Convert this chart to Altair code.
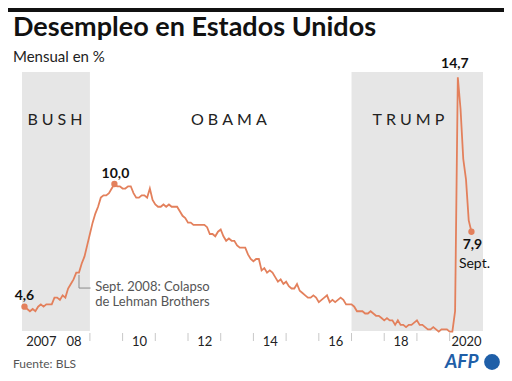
import altair as alt
import pandas as pd

# Monthly unemployment rate (%), BLS
rate_2007 = [4.6, 4.5, 4.4, 4.5, 4.4, 4.6, 4.7, 4.6, 4.7, 4.7, 4.7, 5.0]
rate_2008 = [5.0, 4.9, 5.1, 5.0, 5.4, 5.6, 5.8, 6.1, 6.1, 6.5, 6.8, 7.3]
rate_2009 = [7.8, 8.3, 8.7, 9.0, 9.4, 9.5, 9.5, 9.6, 9.8, 10.0, 9.9, 9.9]
rate_2010 = [9.8, 9.8, 9.9, 9.9, 9.6, 9.4, 9.4, 9.5, 9.5, 9.4, 9.8, 9.3]
rate_2011 = [9.1, 9.0, 9.0, 9.1, 9.0, 9.1, 9.0, 9.0, 9.0, 8.8, 8.6, 8.5]
rate_2012 = [8.3, 8.3, 8.2, 8.2, 8.2, 8.2, 8.2, 8.1, 7.8, 7.8, 7.7, 7.9]
rate_2013 = [8.0, 7.7, 7.5, 7.6, 7.5, 7.5, 7.3, 7.2, 7.2, 7.2, 6.9, 6.7]
rate_2014 = [6.6, 6.7, 6.7, 6.2, 6.3, 6.1, 6.2, 6.1, 5.9, 5.7, 5.8, 5.6]
rate_2015 = [5.7, 5.5, 5.4, 5.4, 5.6, 5.3, 5.2, 5.1, 5.0, 5.0, 5.1, 5.0]
rate_2016 = [4.8, 4.9, 5.0, 5.1, 4.8, 4.9, 4.8, 4.9, 5.0, 4.9, 4.7, 4.7]
rate_2017 = [4.7, 4.6, 4.4, 4.4, 4.4, 4.3, 4.3, 4.4, 4.3, 4.2, 4.2, 4.1]
rate_2018 = [4.0, 4.1, 4.0, 4.0, 3.8, 4.0, 3.8, 3.8, 3.7, 3.8, 3.8, 3.9]
rate_2019 = [4.0, 3.8, 3.8, 3.7, 3.6, 3.6, 3.7, 3.6, 3.5, 3.6, 3.6, 3.6]
rate_2020 = [3.5, 3.5, 4.4, 14.7, 13.3, 11.1, 10.2, 8.4, 7.9]

series = [rate_2007, rate_2008, rate_2009, rate_2010, rate_2011, rate_2012, rate_2013,
          rate_2014, rate_2015, rate_2016, rate_2017, rate_2018, rate_2019, rate_2020]

# Presidential terms
term_names = ["BUSH", "OBAMA", "TRUMP"]
term_start = [2006.924, 2009.0, 2017.0]
term_end = [2009.0, 2017.0, 2021.02]
term_shaded = [True, False, True]
term_label_t = [2007.93, 2013.25, 2018.74]
term_label_rate = [12.6, 12.6, 12.6]

# Axis
tick_years = list(range(2009, 2021))
label_pos = [2007.5, 2008.5, 2010.5, 2012.5, 2014.5, 2016.5, 2018.5, 2020.5]
label_text = ["2007", "08", "10", "12", "14", "16", "18", "2020"]

# Highlighted values
hl_key = ["start", "peak09", "peak20", "last"]
hl_t = [2007.0, 2009.75, 2020.25, 2020 + 8 / 12]
hl_rate = [4.6, 10.0, 14.7, 7.9]
hl_text = ["4,6", "10,0", "14,7", "7,9"]

# Lehman annotation
lehman_t = 2008 + 8 / 12
lehman_rate_top = 6.0
lehman_rate_elbow = 5.42
lehman_t_end = 2009.02
lehman_text = ["Sept. 2008: Colapso", "de Lehman Brothers"]
lehman_text_t = 2009.16
lehman_text_rate = 5.29

rows = []
for i, vals in enumerate(series):
    for m, v in enumerate(vals):
        rows.append({"t": 2007 + i + m / 12, "rate": v})
df = pd.DataFrame(rows)

terms = pd.DataFrame({"name": ["\u2005".join(n) for n in term_names], "start": term_start,
                      "end": term_end, "shaded": term_shaded, "lt": term_label_t,
                      "lr": term_label_rate})
hl = pd.DataFrame({"key": hl_key, "t": hl_t, "rate": hl_rate, "text": hl_text})
ticks = pd.DataFrame({"t": tick_years})
one = pd.DataFrame({"k": [0]})

W, H = 461, 259
LINE = "#E3805C"

expr = "''"
for p, s in reversed(list(zip(label_pos, label_text))):
    expr = f"abs(datum.value - {p}) < 0.01 ? '{s}' : ({expr})"

xscale = alt.Scale(domain=[2006.924, 2021.02], nice=False, zero=False)
yscale = alt.Scale(domain=[3.53, 14.93], nice=False, zero=False)
xaxis = alt.Axis(values=label_pos, labelExpr=expr, title=None, domain=False, ticks=False,
                 grid=False, labelFontSize=13, labelColor="#222", labelPadding=4,
                 labelFont="Lato")

shade = alt.Chart(terms).transform_filter("datum.shaded").mark_rect(color="#E6E6E6").encode(
    x=alt.X("start:Q", scale=xscale, axis=xaxis), x2="end:Q",
    y=alt.value(0), y2=alt.value(H))

tick_marks = alt.Chart(ticks).mark_rule(color="#C8C8C8", strokeWidth=1).encode(
    x=alt.X("t:Q", scale=xscale, axis=xaxis), y=alt.value(H + 2), y2=alt.value(H + 10))

term_lbl = alt.Chart(terms).mark_text(fontSize=16, color="#222", align="center",
                                      baseline="alphabetic").encode(
    x=alt.X("lt:Q", scale=xscale, axis=xaxis),
    y=alt.Y("lr:Q", scale=yscale, axis=None), text="name:N")

line = alt.Chart(df).mark_line(color=LINE, strokeWidth=1.8).encode(
    x=alt.X("t:Q", scale=xscale, axis=xaxis),
    y=alt.Y("rate:Q", scale=yscale, axis=None))

dots = alt.Chart(hl).transform_filter("datum.key != 'peak20'").mark_circle(
    color=LINE, size=40, opacity=1).encode(
    x=alt.X("t:Q", scale=xscale, axis=xaxis),
    y=alt.Y("rate:Q", scale=yscale, axis=None))


def hl_label(key, dx, dy, align="center", baseline="alphabetic"):
    return alt.Chart(hl).transform_filter(f"datum.key == '{key}'").mark_text(
        fontSize=14, fontWeight="bold", color="#111", dx=dx, dy=dy, align=align,
        baseline=baseline).encode(
        x=alt.X("t:Q", scale=xscale, axis=xaxis),
        y=alt.Y("rate:Q", scale=yscale, axis=None), text="text:N")


lbl_start = hl_label("start", 0, -7)
lbl_p09 = hl_label("peak09", 1, -6)
lbl_p20 = hl_label("peak20", -3, -9)
lbl_last = hl_label("last", 1, 17)
lbl_sept = alt.Chart(hl).transform_filter("datum.key == 'last'").mark_text(
    fontSize=14, color="#111", dx=3, dy=32, text="Sept.").encode(
    x=alt.X("t:Q", scale=xscale, axis=xaxis),
    y=alt.Y("rate:Q", scale=yscale, axis=None))

leh = pd.DataFrame({"t": [lehman_t], "r1": [lehman_rate_top], "r2": [lehman_rate_elbow],
                    "t2": [lehman_t_end], "tt": [lehman_text_t], "tr": [lehman_text_rate]})
leh_v = alt.Chart(leh).mark_rule(color="#8A8A8A", strokeWidth=1).encode(
    x=alt.X("t:Q", scale=xscale, axis=xaxis),
    y=alt.Y("r1:Q", scale=yscale, axis=None), y2="r2:Q")
leh_h = alt.Chart(leh).mark_rule(color="#8A8A8A", strokeWidth=1).encode(
    x=alt.X("t:Q", scale=xscale, axis=xaxis), x2="t2:Q",
    y=alt.Y("r2:Q", scale=yscale, axis=None))
leh_txt = alt.Chart(leh).mark_text(fontSize=13, color="#555", align="left",
                                   baseline="alphabetic", lineHeight=15,
                                   text=lehman_text).encode(
    x=alt.X("tt:Q", scale=xscale, axis=xaxis),
    y=alt.Y("tr:Q", scale=yscale, axis=None))

# Header / footer decorations (single-row data so each is drawn once)
deco = alt.Chart(one)
topbar = deco.mark_rule(color="#111", strokeWidth=4).encode(
    x=alt.value(-14), x2=alt.value(W + 21), y=alt.value(-62))
title = deco.mark_text(text="Desempleo en Estados Unidos", fontSize=27, fontWeight="bold",
                       color="#111", align="left", baseline="alphabetic").encode(
    x=alt.value(-9), y=alt.value(-36))
subtitle = deco.mark_text(text="Mensual en %", fontSize=15, color="#222", align="left",
                          baseline="alphabetic").encode(x=alt.value(-9), y=alt.value(-10))
source = deco.mark_text(text="Fuente: BLS", fontSize=12, color="#555", align="left",
                        baseline="alphabetic").encode(x=alt.value(-9), y=alt.value(296))
afp = deco.mark_text(text="AFP", fontSize=19, fontWeight="bold", fontStyle="italic",
                     color="#1F5FA8", align="left", baseline="alphabetic").encode(
    x=alt.value(423), y=alt.value(296))
afp_dot = deco.mark_point(filled=True, shape="circle", size=250, color="#1F5FA8",
                          opacity=1).encode(x=alt.value(470), y=alt.value(290))

chart = alt.layer(
    shade, tick_marks, term_lbl, leh_v, leh_h, line, dots,
    lbl_start, lbl_p09, lbl_p20, lbl_last, lbl_sept, leh_txt,
    topbar, title, subtitle, source, afp, afp_dot
).properties(
    width=W, height=H,
    autosize=alt.AutoSizeParams(type="none"),
    padding={"left": 14, "top": 64, "right": 21, "bottom": 41},
).configure(font="Lato").configure_view(stroke=None)

chart.save("out.html", embed_options={"renderer": "svg", "actions": False})
